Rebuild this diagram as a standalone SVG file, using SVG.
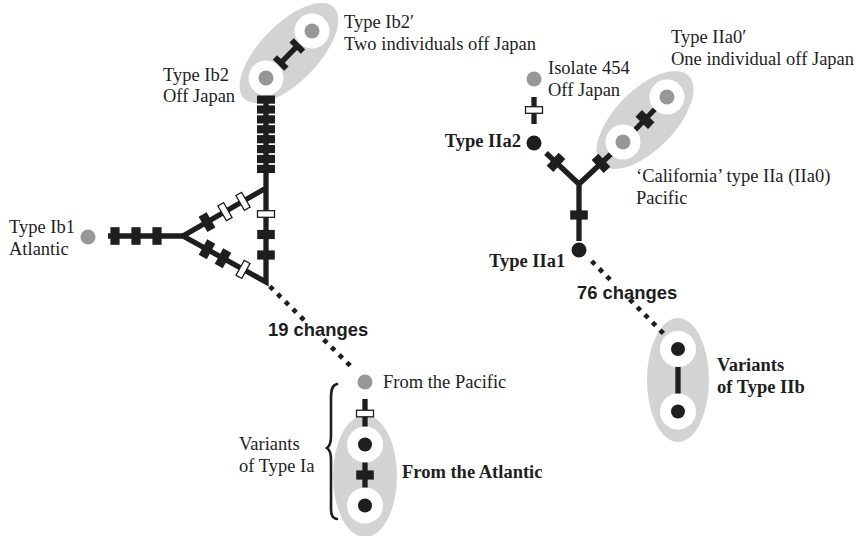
<svg xmlns="http://www.w3.org/2000/svg" xmlns:xlink="http://www.w3.org/1999/xlink" width="856" height="536" viewBox="0 0 856 536">
<style>
.t{font-family:"Liberation Serif","Times New Roman",serif;font-size:18.5px;fill:#1e1e1e}
.b{font-weight:bold}
.s{font-family:"Liberation Sans",Arial,sans-serif;font-weight:bold;font-size:18.4px;fill:#1e1e1e}
.ln{fill:none;stroke:#1e1e1e;stroke-width:5.3;stroke-linejoin:miter}
.grp{fill:#d3d3d3}
.wc{fill:#fff}
.gd{fill:#979797}
.bd{fill:#1e1e1e}
.bx{fill:#1e1e1e}
.wb{fill:#fff;stroke:#1e1e1e;stroke-width:1.3}
.dm{fill:#1e1e1e}
.br{fill:none;stroke:#1e1e1e;stroke-width:2.6;stroke-linecap:round}
</style>
<defs>
<rect id="bx" class="bx" x="-8.8" y="-4.6" width="17.6" height="9.2"/>
<rect id="wb" class="wb" x="-8.5" y="-3.3" width="17" height="6.6"/>
<rect id="ld" class="bx" x="-9" y="0" width="18" height="8.2"/>
<path id="dm" class="dm" d="M0,-3.3L3.3,0L0,3.3L-3.3,0Z"/>
</defs>

<!-- grouping ellipses -->
<g id="groups">
<ellipse class="grp" cx="289" cy="53" rx="64" ry="29" transform="rotate(-45.6 289 53)"/>
<ellipse class="grp" cx="645" cy="120" rx="62" ry="30" transform="rotate(-45.5 645 120)"/>
<ellipse class="grp" cx="365" cy="476" rx="32" ry="61"/>
<ellipse class="grp" cx="678" cy="380" rx="31" ry="62"/>
</g>

<g id="connectors">
<!-- left network -->
<path class="ln" d="M266,95V282L183,236L266,188"/>
<path class="ln" d="M108,236H183"/>
<g>
<use xlink:href="#ld" x="266" y="95.5"/>
<use xlink:href="#ld" x="266" y="105.4"/>
<use xlink:href="#ld" x="266" y="115.3"/>
<use xlink:href="#ld" x="266" y="125.2"/>
<use xlink:href="#ld" x="266" y="135.1"/>
<use xlink:href="#ld" x="266" y="145"/>
<use xlink:href="#ld" x="266" y="154.9"/>
<use xlink:href="#ld" x="266" y="164.8"/>
</g>
<use xlink:href="#bx" transform="translate(115,236) rotate(90)"/>
<use xlink:href="#bx" transform="translate(136,236) rotate(90)"/>
<use xlink:href="#bx" transform="translate(157,236) rotate(90)"/>
<use xlink:href="#bx" transform="translate(207,222.1) rotate(60)"/>
<use xlink:href="#wb" transform="translate(225,211.7) rotate(60)"/>
<use xlink:href="#wb" transform="translate(243,201.3) rotate(60)"/>
<use xlink:href="#bx" transform="translate(207,249.3) rotate(-61)"/>
<use xlink:href="#bx" transform="translate(223,258.2) rotate(-61)"/>
<use xlink:href="#wb" transform="translate(243,269.3) rotate(-61)"/>
<use xlink:href="#wb" x="266" y="214"/>
<use xlink:href="#bx" x="266" y="234.5"/>
<use xlink:href="#bx" x="266" y="255"/>
<!-- Ib2 to Ib2' link -->
<g transform="translate(289,54.5) rotate(-45.6)">
<rect class="bx" x="-12" y="-2.7" width="24" height="5.4"/>
<rect class="bx" x="-15" y="-8" width="6.2" height="16"/>
<rect class="bx" x="8.8" y="-8" width="6.2" height="16"/>
</g>
<!-- dotted 19 changes -->
<use xlink:href="#dm" x="271.5" y="288"/>
<use xlink:href="#dm" x="279.2" y="295.6"/>
<use xlink:href="#dm" x="286.9" y="303.2"/>
<use xlink:href="#dm" x="294.6" y="310.8"/>
<use xlink:href="#dm" x="302.3" y="318.4"/>
<use xlink:href="#dm" x="325.4" y="341.2"/>
<use xlink:href="#dm" x="333.1" y="348.8"/>
<use xlink:href="#dm" x="340.8" y="356.4"/>
<use xlink:href="#dm" x="348.5" y="364"/>
<!-- Ia -->
<path class="ln" d="M365,399V427M365,462V488"/>
<use xlink:href="#wb" x="365" y="413.5"/>
<use xlink:href="#bx" x="365" y="475"/>
<!-- right network -->
<path class="ln" d="M534,97V124"/>
<use xlink:href="#wb" x="534" y="110"/>
<path class="ln" d="M546,153L579,184L611,154M579,184V241"/>
<path class="ln" d="M635,130L655,109"/>
<use xlink:href="#bx" transform="translate(556,162.4) rotate(-47)"/>
<use xlink:href="#bx" transform="translate(601,163.4) rotate(47)"/>
<use xlink:href="#bx" transform="translate(645,119.5) rotate(44.4)"/>
<use xlink:href="#bx" x="579" y="215"/>
<!-- dotted 76 changes -->
<use xlink:href="#dm" x="593.3" y="262.7"/>
<use xlink:href="#dm" x="600.9" y="270.4"/>
<use xlink:href="#dm" x="608.5" y="278"/>
<use xlink:href="#dm" x="631.3" y="301"/>
<use xlink:href="#dm" x="638.9" y="308.7"/>
<use xlink:href="#dm" x="646.5" y="316.3"/>
<use xlink:href="#dm" x="654.1" y="324"/>
<use xlink:href="#dm" x="661.7" y="331.7"/>
<!-- IIb -->
<path class="ln" d="M678,366V394"/>
<!-- brace -->
<path class="br" d="M337,384C332,385 331,390 331,398L331,436C331,443 330,446 327,448C330,450 331,453 331,460L331,508C331,515 332,518 337,519"/>
</g>

<g id="Ib1">
<circle class="gd" cx="88" cy="237" r="7.5"/>
<text class="t" x="9" y="233">Type Ib1</text>
<text class="t" x="9" y="255">Atlantic</text>
</g>
<g id="Ib2">
<circle class="wc" cx="266" cy="78" r="17.5"/>
<circle class="gd" cx="266" cy="78" r="7.5"/>
<text class="t" x="163" y="81">Type Ib2</text>
<text class="t" x="163" y="102">Off Japan</text>
</g>
<g id="Ib2p">
<circle class="wc" cx="312" cy="31" r="17.5"/>
<circle class="gd" cx="312" cy="31" r="7.5"/>
<text class="t" x="344" y="28">Type Ib2′</text>
<text class="t" x="344" y="50">Two individuals off Japan</text>
</g>
<text class="s" x="268" y="336">19 changes</text>
<g id="IaPacific">
<circle class="gd" cx="365" cy="382" r="7.5"/>
<text class="t" x="383" y="388">From the Pacific</text>
</g>
<g id="IaAtlantic">
<circle class="wc" cx="365" cy="444.5" r="18"/>
<circle class="bd" cx="365" cy="444.5" r="7"/>
<circle class="wc" cx="365" cy="505.5" r="18"/>
<circle class="bd" cx="365" cy="505.5" r="7"/>
<text class="t b" x="402" y="478">From the Atlantic</text>
</g>
<g id="IaLabel">
<text class="t" x="239" y="450">Variants</text>
<text class="t" x="239" y="472">of Type Ia</text>
</g>
<g id="Isolate454">
<circle class="gd" cx="534" cy="79" r="7.5"/>
<text class="t" x="548" y="74">Isolate 454</text>
<text class="t" x="548" y="96">Off Japan</text>
</g>
<g id="IIa2">
<circle class="bd" cx="534" cy="143" r="7.5"/>
<text class="t b" x="521" y="147" text-anchor="end">Type IIa2</text>
</g>
<g id="IIa0">
<circle class="wc" cx="623" cy="142" r="17.5"/>
<circle class="gd" cx="623" cy="142" r="7.5"/>
<text class="t" x="636" y="182">‘California’ type IIa (IIa0)</text>
<text class="t" x="636" y="204">Pacific</text>
</g>
<g id="IIa0p">
<circle class="wc" cx="667" cy="97" r="17.5"/>
<circle class="gd" cx="667" cy="97" r="7.5"/>
<text class="t" x="671" y="43">Type IIa0′</text>
<text class="t" x="671" y="65">One individual off Japan</text>
</g>
<g id="IIa1">
<circle class="bd" cx="579" cy="250" r="7.5"/>
<text class="t b" x="489" y="267">Type IIa1</text>
</g>
<text class="s" x="577" y="299">76 changes</text>
<g id="IIb">
<circle class="wc" cx="678" cy="349" r="18"/>
<circle class="bd" cx="678" cy="349" r="7"/>
<circle class="wc" cx="678" cy="411.5" r="18"/>
<circle class="bd" cx="678" cy="411.5" r="7"/>
<text class="t b" x="717" y="371">Variants</text>
<text class="t b" x="717" y="393">of Type IIb</text>
</g>
</svg>
